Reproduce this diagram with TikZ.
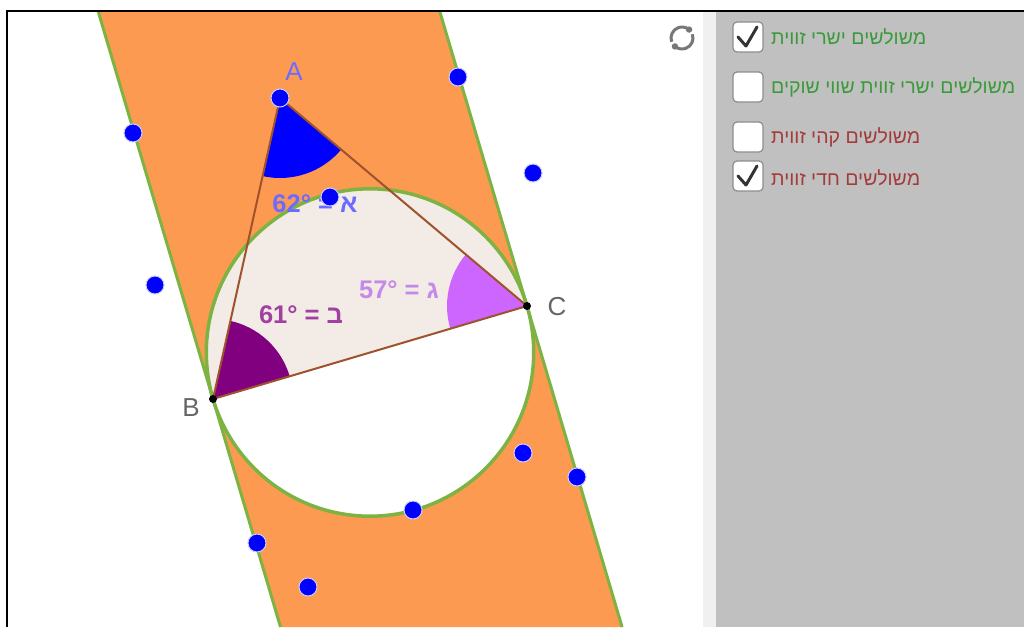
\documentclass[tikz,border=0pt]{standalone}
\usepackage{fontspec}
\setmainfont{Liberation Sans}
\newfontfamily\heb[Script=Hebrew]{Liberation Sans}
\TeXXeTstate=1
\usetikzlibrary{calc}
\definecolor{band}{HTML}{FD9A52}
\definecolor{gline}{HTML}{7CB342}
\definecolor{beige}{HTML}{F3EBE6}
\definecolor{tri}{HTML}{A0522D}
\definecolor{angA}{HTML}{0000FF}
\definecolor{angB}{HTML}{800080}
\definecolor{angC}{HTML}{CC66FF}
\definecolor{labA}{HTML}{6B6BFF}
\definecolor{labB}{HTML}{A040A0}
\definecolor{labC}{HTML}{C58AE8}
\definecolor{panel}{HTML}{C0C0C0}
\definecolor{strip}{HTML}{F0F0F0}
\definecolor{gtext}{HTML}{3A9A3A}
\definecolor{rtext}{HTML}{A33B3B}
\definecolor{ptlab}{HTML}{666666}
\definecolor{icon}{HTML}{777777}
\tikzset{
  bluedot/.style={fill=angA, draw=blue!20!white, line width=1},
  blackdot/.style={fill=black},
  gl/.style={draw=gline, line width=3},
  triedge/.style={draw=tri, line width=2, line join=round},
  anglab/.style={font=\fontsize{25.5}{29}\selectfont\heb\bfseries, inner sep=0},
  ptl/.style={font=\fontsize{26}{30}\selectfont, inner sep=0},
  cbox/.style={fill=white, draw=black!45, line width=1.2, rounded corners=4},
  ck/.style={draw=black!80, line width=3, line cap=round, line join=round},
  cblab/.style={font=\fontsize{19.5}{22}\selectfont\heb, anchor=west, inner sep=0},
}
\begin{document}
\begin{tikzpicture}[x=1pt,y=-1pt]
\useasboundingbox (0,0) rectangle (1024,627);
\fill[white] (0,0) rectangle (1024,627);
% points
\coordinate (A) at (280,98);
\coordinate (B) at (213,399);
\coordinate (C) at (527,306);
\coordinate (O) at (370,352.5);
\coordinate (L1) at (98.38,12);
\coordinate (L2) at (280.53,627);
\coordinate (R1) at (439.92,12);
\coordinate (R2) at (622.07,627);
% band
\fill[band] (L1) -- (R1) -- (R2) -- (L2) -- cycle;
% circle interior
\fill[white] (O) circle[radius=163.7];
\begin{scope}
  \clip (O) circle[radius=163.7];
  \fill[beige] (B) -- (C) -- ($(C)+(-93,-314)$) -- ($(B)+(-93,-314)$) -- cycle;
\end{scope}
% band lines and circle
\draw[gl] (L1) -- (L2);
\draw[gl] (R1) -- (R2);
\draw[gl, line width=3.5] (O) circle[radius=163.7];
% angle sectors
\fill[angA] (A) -- ++(102.55:80) arc[start angle=102.55, end angle=40.10, radius=80] -- cycle;
\fill[angB] (B) -- ++(-77.45:80) arc[start angle=-77.45, end angle=-16.50, radius=80] -- cycle;
\fill[angC] (C) -- ++(163.50:80) arc[start angle=163.50, end angle=220.10, radius=80] -- cycle;
% triangle
\draw[triedge] (A) -- (B) -- (C) -- cycle;
% angle labels
\node[anglab, text=labA] (la) at (315,204) {\beginR א = \beginL62°\endL\endR};
\node[anglab, text=labB] (lb) at (301,315) {\beginR ב = \beginL61°\endL\endR};
\node[anglab, text=labC] (lc) at (399,290) {\beginR ג = \beginL57°\endL\endR};
% point labels
\node[ptl, text=labA] (nA) at (294,72) {A};
\node[ptl, text=ptlab] (nB) at (191,408) {B};
\node[ptl, text=ptlab] (nC) at (557,307) {C};
% dots
\foreach \p in {(133,133),(155,285),(458,77),(533,173),(330,197),(523,453),(577,477),(413,510),(257,543),(308,587)}
  \draw[bluedot] \p circle[radius=9];
\draw[bluedot] (A) circle[radius=9];
\fill[blackdot] (B) circle[radius=4];
\fill[blackdot] (C) circle[radius=4];
% panel
\fill[strip] (703,12) rectangle (716,627);
\fill[panel] (716,12) rectangle (1024,627);
% frame
\draw[line width=2] (7,627) -- (7,11) -- (1024,11);
% refresh icon
\begin{scope}[shift={(682,38)}, x=1pt, y=1pt]
  \draw[icon, line width=3] (200:11) arc[start angle=200, end angle=55, radius=11];
  \fill[icon] (50:11) circle[radius=3.2];
  \draw[icon, line width=3] (20:11) arc[start angle=20, end angle=-125, radius=11];
  \fill[icon] (230:11) circle[radius=3.2];
\end{scope}
% checkboxes
\draw[cbox] (733,22) rectangle (763,52);
\draw[ck] (738,37) -- (746,46) -- (757,27);
\node[cblab, text=gtext] (t1) at (771,37) {\beginR משולשים ישרי זווית\endR};
\draw[cbox] (733,72) rectangle (763,102);
\node[cblab, text=gtext] (t2) at (771,87) {\beginR משולשים ישרי זווית שווי שוקים\endR};
\draw[cbox] (733,122) rectangle (763,152);
\node[cblab, text=rtext] (t3) at (771,137) {\beginR משולשים קהי זווית\endR};
\draw[cbox] (733,161) rectangle (763,191);
\draw[ck] (738,176) -- (746,185) -- (757,166);
\node[cblab, text=rtext] (t4) at (771,178) {\beginR משולשים חדי זווית\endR};
\end{tikzpicture}
\end{document}
